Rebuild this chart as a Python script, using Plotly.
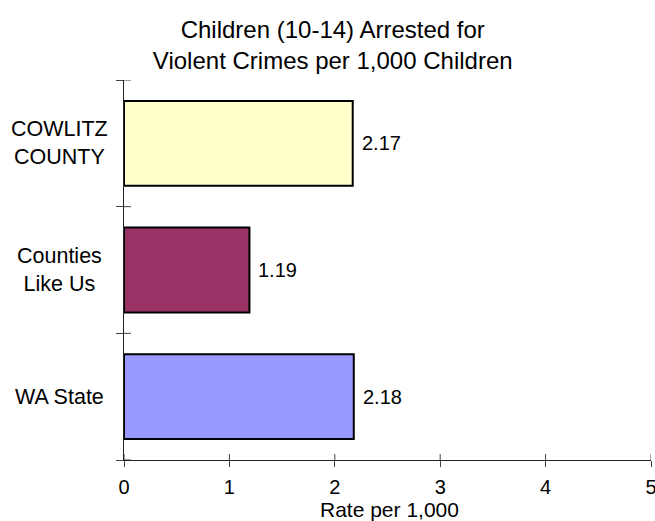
import plotly.graph_objects as go

categories = ["WA State", "Counties Like Us", "COWLITZ COUNTY"]
category_labels = ["WA State", "Counties<br>Like Us", "COWLITZ<br>COUNTY"]
values = [2.18, 1.19, 2.17]
colors = ["#9999FF", "#993366", "#FFFFCC"]
x_ticks = [0, 1, 2, 3, 4, 5]
title_text = "Children (10-14) Arrested for<br>Violent Crimes per 1,000 Children"
x_title = "Rate per 1,000"

FONT = "Liberation Sans, Arial, sans-serif"

fig = go.Figure()
fig.add_trace(go.Bar(
    y=categories, x=values, orientation="h",
    marker=dict(color=colors, line=dict(color="#000000", width=2)),
    hoverinfo="skip",
))

annotations = []
for c, v in zip(categories, values):
    annotations.append(dict(x=v, y=c, xref="x", yref="y", text=f"{v:.2f}",
                            showarrow=False, xanchor="left", xshift=7,
                            font=dict(size=20, color="#000", family=FONT)))
for c, lab in zip(categories, category_labels):
    annotations.append(dict(x=-0.123, y=c, xref="paper", yref="y", text=lab,
                            showarrow=False, xanchor="center", align="center",
                            font=dict(size=21.5, color="#000", family=FONT)))
# x-axis title
annotations.append(dict(x=0.503, y=0, xref="paper", yref="paper", text=x_title,
                        showarrow=False, xanchor="center", yanchor="middle",
                        yshift=-49, borderpad=0,
                        font=dict(size=21, color="#000", family=FONT)))

shapes = []
# inner halves of crossing tick marks
for k in range(len(categories) + 1):
    shapes.append(dict(type="line", xref="x", yref="y", xsizemode="pixel",
                       xanchor=0, x0=0, x1=7, y0=k - 0.5, y1=k - 0.5,
                       line=dict(color="#444", width=1)))
for t in x_ticks:
    shapes.append(dict(type="line", xref="x", yref="y", ysizemode="pixel",
                       yanchor=-0.5, y0=0, y1=6, x0=t, x1=t,
                       line=dict(color="#444", width=1)))

fig.update_layout(
    width=655, height=521,
    margin=dict(l=124, r=4, t=80, b=61),
    paper_bgcolor="white", plot_bgcolor="white",
    font=dict(family=FONT, color="#000"),
    showlegend=False,
    bargap=0.33,
    title=dict(text=title_text, x=0.508, xref="container", xanchor="center",
               y=1 - 38 / 521, yref="container", yanchor="middle",
               font=dict(size=24, family=FONT, color="#000")),
    annotations=annotations,
    shapes=shapes,
    xaxis=dict(range=[0, 5], tickvals=x_ticks, ticks="outside", ticklen=6,
               tickcolor="#444", showline=True, linecolor="#222", linewidth=1,
               showgrid=False, zeroline=False, automargin=False,
               ticklabelstandoff=3, ticklabeloverflow="allow",
               tickfont=dict(size=20, family=FONT, color="#000")),
    yaxis=dict(type="category", categoryarray=categories, categoryorder="array",
               range=[-0.5, 2.5], tickson="boundaries", ticks="outside",
               ticklen=7, tickcolor="#444", showticklabels=False,
               showline=True, linecolor="#222", linewidth=1, showgrid=False,
               zeroline=False, automargin=False),
)

fig.write_html("out.html", config={"displayModeBar": False},
               post_script="document.body.style.margin='0';document.body.style.overflow='hidden';")
